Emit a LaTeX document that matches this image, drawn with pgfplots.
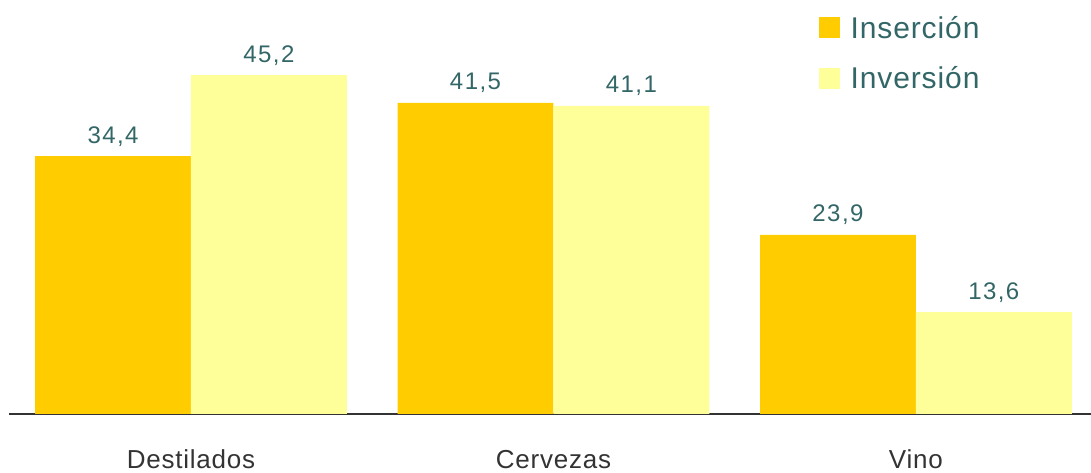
\documentclass[border=0pt]{standalone}
\usepackage{fontspec}
\setmainfont{Liberation Sans}
\newfontfamily\spaced[LetterSpace=6]{Liberation Sans}
\newfontfamily\spacedc[LetterSpace=3]{Liberation Sans}
\usepackage{pgfplots}
\pgfplotsset{compat=1.18}
\definecolor{cIns}{HTML}{FFCC00}
\definecolor{cInv}{HTML}{FFFF99}
\definecolor{cTxt}{HTML}{336666}
\definecolor{cAx}{HTML}{333333}
\begin{document}
\begin{tikzpicture}
\begin{axis}[
  scale only axis,
  width=1082pt, height=413pt,
  xmin=-0.502, xmax=2.483,
  ymin=0, ymax=55.1,
  axis x line*=bottom,
  axis line style={-, line width=2pt, cAx},
  hide y axis,
  xtick={0,1,2},
  xticklabels={Destilados,Cervezas,Vino},
  xtick style={draw=none},
  major tick length=0pt,
  xticklabel style={anchor=base, yshift=-54pt, font=\spacedc\fontsize{26}{30}\selectfont, text=cAx},
  ybar,
  bar width=0.43,
  nodes near coords,
  nodes near coords style={anchor=base, yshift=13pt, font=\spaced\fontsize{24}{28}\selectfont, text=cTxt,
    /pgf/number format/.cd, use comma, fixed, fixed zerofill, precision=1, assume math mode=true},
  legend style={draw=none, fill=none, at={(0.748,0.969)}, anchor=north west,
    font=\spacedc\fontsize{30}{34}\selectfont, text=cTxt, row sep=23pt,
    legend cell align=left, inner sep=0pt},
  legend image code/.code={\fill[#1] (0pt,-10.5pt) rectangle (21pt,10.5pt); \path (30pt,0pt);},
  clip=false,
]
\addplot[fill=cIns, draw=none, bar shift=-0.215] coordinates {(0,34.4) (1,41.5) (2,23.9)};
\addplot[fill=cInv, draw=none, bar shift=0.215] coordinates {(0,45.2) (1,41.1) (2,13.6)};
\legend{Inserción,Inversión}
\end{axis}
\pgfresetboundingbox
\path[use as bounding box] (-9pt,-59pt) rectangle (1082pt,414pt);
\end{tikzpicture}
\end{document}
